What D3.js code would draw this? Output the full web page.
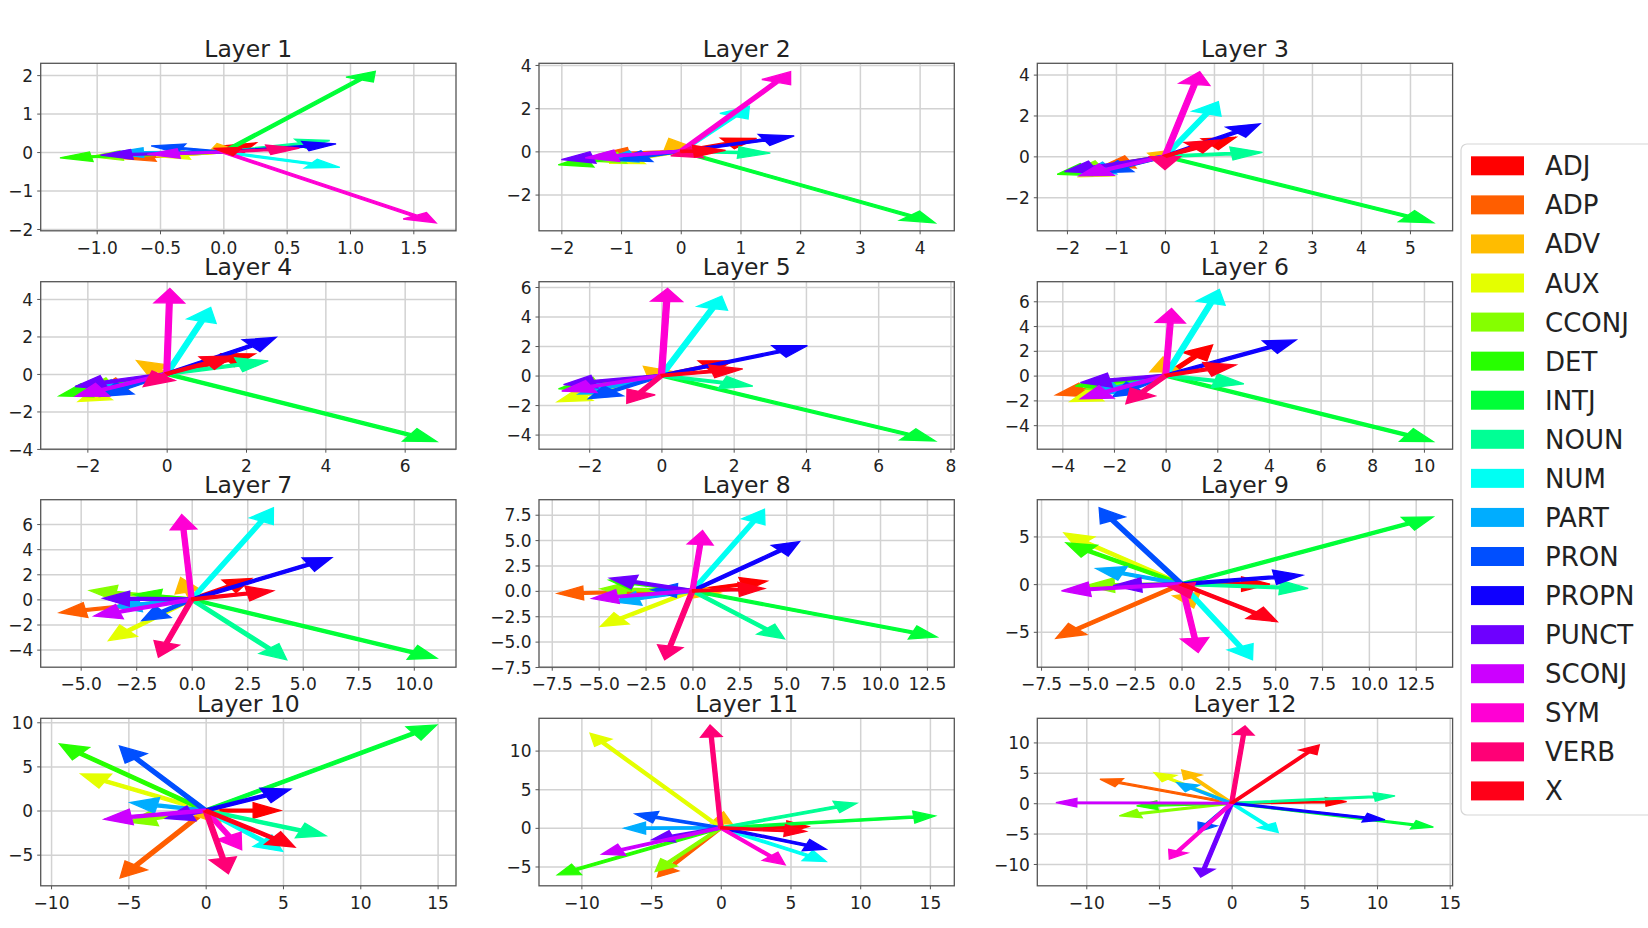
<!DOCTYPE html>
<html><head><meta charset="utf-8">
<script src="https://cdn.jsdelivr.net/npm/d3@7/dist/d3.min.js"></script>
<style>
body{margin:0;background:#fff}
svg{display:block}
text{font-family:"DejaVu Sans",sans-serif;fill:#222}
</style>
</head><body>
<svg id="chart" width="1648" height="928"></svg>
<script>
const categories = ["ADJ","ADP","ADV","AUX","CCONJ","DET","INTJ","NOUN","NUM","PART","PRON","PROPN","PUNCT","SCONJ","SYM","VERB","X"];
const layerTitles = ["Layer 1","Layer 2","Layer 3","Layer 4","Layer 5","Layer 6","Layer 7","Layer 8","Layer 9","Layer 10","Layer 11","Layer 12"];

// [dx, dy] per category, in category order
const layer1 = [[0.26,0.24],[-0.8,-0.17],[-0.05,0.22],[-0.53,-0.12],[-1.05,-0.12],[-1.29,-0.15],[1.2,2.1],[0.84,0.3],[0.92,-0.4],[-0.88,-0.02],[-0.57,0.16],[0.89,0.21],[-0.97,-0.08],[-0.6,-0.06],[1.68,-1.84],[0.6,0.1],[0.15,0.12]];
const layer2 = [[1.27,0.6],[-1.4,-0.15],[-0.2,0.6],[-1.2,-0.55],[-1.5,-0.45],[-2.05,-0.62],[4.26,-3.31],[1.5,-0.08],[1.15,2.1],[-1.3,-0.38],[-1.07,-0.42],[1.9,0.72],[-2.0,-0.38],[-1.6,-0.3],[1.84,3.69],[0.38,-0.3],[0.75,0.05]];
const layer3 = [[1.45,0.94],[-1.3,-0.5],[-0.35,0.15],[-1.75,-1.0],[-1.9,-0.75],[-2.2,-0.88],[5.48,-3.25],[1.99,0.2],[1.09,2.68],[-1.7,-0.85],[-1.35,-0.8],[1.94,1.59],[-2.05,-0.75],[-1.75,-0.95],[0.71,4.15],[0.0,-0.65],[1.1,0.8]];
const layer4 = [[2.23,1.07],[-1.8,-0.9],[-0.76,0.71],[-2.23,-1.47],[-2.1,-0.85],[-2.71,-1.17],[6.81,-3.61],[2.56,0.69],[1.11,3.55],[-1.9,-1.0],[-1.68,-1.2],[2.76,1.95],[-2.31,-0.67],[-2.3,-1.2],[0.08,4.56],[-0.59,-0.67],[1.68,0.96]];
const layer5 = [[2.0,1.0],[-2.3,-1.1],[-0.5,0.63],[-2.88,-1.78],[-2.6,-0.8],[-2.85,-0.9],[7.58,-4.43],[2.53,-0.72],[1.67,5.39],[-2.3,-1.25],[-2.02,-1.57],[4.04,2.02],[-2.71,-0.61],[-2.76,-1.06],[0.17,5.91],[-0.96,-1.89],[2.25,0.45]];
const layer6 = [[1.82,2.47],[-4.25,-1.56],[-0.1,1.5],[-3.7,-2.1],[-3.1,-1.1],[-3.5,-0.85],[10.36,-5.32],[3.03,-0.67],[2.08,6.96],[-2.9,-1.45],[-2.05,-1.7],[5.05,2.88],[-3.3,-0.57],[-3.3,-1.88],[0.23,5.43],[-1.54,-2.28],[2.72,0.86]];
const layer7 = [[2.7,1.67],[-5.96,-1.06],[-0.5,1.75],[-3.75,-3.28],[-4.6,0.7],[-2.6,0.4],[11.04,-4.68],[4.28,-4.81],[3.68,7.3],[-3.5,-0.6],[-2.25,-1.69],[6.31,3.33],[-4.0,0.08],[-4.4,-1.32],[-0.45,6.77],[-1.5,-4.6],[3.68,0.69]];
const layer8 = [[3.98,0.96],[-7.2,-0.26],[1.5,-0.2],[-4.91,-3.5],[-4.9,0.2],[-4.45,1.05],[13.04,-4.55],[4.91,-4.72],[3.84,8.05],[-4.2,-1.09],[-2.2,0.1],[5.71,4.85],[-4.41,1.25],[-5.36,-0.76],[0.54,5.94],[-1.48,-6.8],[3.84,0.23]];
const layer9 = [[4.72,0.0],[-6.71,-5.68],[0.65,-2.5],[-6.28,5.37],[-5.1,-0.15],[-6.17,4.32],[13.43,7.04],[6.76,-0.45],[3.79,-7.94],[-4.57,1.64],[-4.4,8.01],[6.46,0.94],[-3.65,-0.17],[-6.41,-0.7],[0.89,-7.18],[0.45,-1.5],[5.11,-3.94]];
const layer10 = [[4.85,0.0],[-5.54,-7.66],[1.0,-1.6],[-8.08,4.15],[-5.0,-1.3],[-9.46,7.55],[14.94,9.7],[7.78,-2.87],[4.98,-4.64],[-4.89,0.91],[-5.58,7.32],[5.5,2.42],[-2.6,-0.9],[-6.57,-0.98],[2.33,-4.45],[1.47,-7.17],[5.78,-4.15]];
const layer11 = [[6.3,0.17],[-4.55,-6.38],[0.2,2.1],[-9.38,12.24],[-4.71,-5.65],[-11.72,-6.08],[15.38,1.55],[9.76,3.19],[7.56,-4.35],[-6.94,-0.04],[-6.15,1.81],[7.56,-2.76],[-4.95,-1.55],[-8.54,-3.41],[4.62,-4.78],[-0.77,13.32],[6.12,-0.47]];
const layer12 = [[7.91,0.27],[-9.06,3.95],[-3.44,5.48],[-5.34,5.04],[-7.73,-2.08],[-6.54,-0.44],[13.88,-3.95],[11.24,1.2],[3.21,-4.82],[-3.78,3.4],[-2.3,-4.7],[10.55,-2.74],[-2.13,-12.16],[-12.09,0.11],[-4.29,-9.2],[0.92,12.71],[6.03,9.59]];
const layers = [layer1,layer2,layer3,layer4,layer5,layer6,layer7,layer8,layer9,layer10,layer11,layer12];

const xDomains = [[-1.442,1.837],[-2.374,4.581],[-2.605,5.87],[-3.176,7.294],[-3.389,8.107],[-4.968,11.11],[-6.8,11.9],[-8.18,13.96],[-7.7,14.47],[-10.67,16.19],[-13.04,16.75],[-13.37,15.2]];
const yDomains = [[-2.047,2.307],[-3.677,4.077],[-3.642,4.553],[-4.014,4.92],[-4.99,6.36],[-5.94,7.58],[-5.40,7.94],[-7.52,8.98],[-8.71,8.85],[-8.53,10.45],[-7.5,14.18],[-13.59,13.97]];
const xTicks = [[-1,-0.5,0,0.5,1,1.5],[-2,-1,0,1,2,3,4],[-2,-1,0,1,2,3,4,5],[-2,0,2,4,6],[-2,0,2,4,6,8],[-4,-2,0,2,4,6,8,10],[-5,-2.5,0,2.5,5,7.5,10],[-7.5,-5,-2.5,0,2.5,5,7.5,10,12.5],[-7.5,-5,-2.5,0,2.5,5,7.5,10,12.5],[-10,-5,0,5,10,15],[-10,-5,0,5,10,15],[-10,-5,0,5,10,15]];
const yTicks = [[-2,-1,0,1,2],[-2,0,2,4],[-2,0,2,4],[-4,-2,0,2,4],[-4,-2,0,2,4,6],[-4,-2,0,2,4,6],[-4,-2,0,2,4,6],[-7.5,-5,-2.5,0,2.5,5,7.5],[-5,0,5],[-5,0,5,10],[-5,0,5,10],[-10,-5,0,5,10]];

// matplotlib 'hsv' colormap segments
const seg = {
  r: [[0,1],[0.158730,1],[0.174603,0.96875],[0.333333,0.03125],[0.349206,0],[0.666667,0],[0.682540,0.03125],[0.841270,0.96875],[0.857143,1],[1,1]],
  g: [[0,0],[0.158730,0.9375],[0.174603,1],[0.507937,1],[0.666667,0.0625],[0.682540,0],[1,0]],
  b: [[0,0],[0.333333,0],[0.349206,0.0625],[0.507937,1],[0.841270,1],[0.857143,0.9375],[1,0.09375]]
};
function segVal(s,t){
  for(let i=1;i<s.length;i++){
    if(t<=s[i][0]){const a=s[i-1],b=s[i];return a[1]+(b[1]-a[1])*(t-a[0])/(b[0]-a[0]);}
  }
  return s[s.length-1][1];
}
function hsvColor(t){return d3.rgb(255*segVal(seg.r,t),255*segVal(seg.g,t),255*segVal(seg.b,t)).formatHex();}
const colors = categories.map((c,i)=>hsvColor(i/(categories.length-1)));

const svg = d3.select("#chart");
svg.append("rect").attr("width",1648).attr("height",928).attr("fill","#fff");

const colLeft = [40.7,539,1037.3], rowTop = [63.3,281.7,499.7,718.3];
const W = 415.3, H = 167.5;
const fmt = (v,dec)=> (v<0?"\u2212":"") + Math.abs(v).toFixed(dec);

layers.forEach((vecs,li)=>{
  const gx = colLeft[li%3], gy = rowTop[Math.floor(li/3)];
  const g = svg.append("g").attr("transform",`translate(${gx},${gy})`);
  const x = d3.scaleLinear().domain(xDomains[li]).range([0,W]);
  const y = d3.scaleLinear().domain(yDomains[li]).range([H,0]);
  const xt = xTicks[li], yt = yTicks[li];
  const xdec = xt.some(v=>!Number.isInteger(v))?1:0;
  const ydec = yt.some(v=>!Number.isInteger(v))?1:0;

  // grid
  g.append("g").call(d3.axisBottom(x).tickValues(xt).tickSize(-H).tickFormat(""))
    .attr("transform",`translate(0,${H})`)
    .call(a=>{a.select(".domain").remove();a.selectAll("line").attr("stroke","#d2d2d2").attr("stroke-width",1.5);});
  g.append("g").call(d3.axisLeft(y).tickValues(yt).tickSize(-W).tickFormat(""))
    .call(a=>{a.select(".domain").remove();a.selectAll("line").attr("stroke","#d2d2d2").attr("stroke-width",1.5);});

  // arrows
  const cid = "clip"+li;
  g.append("clipPath").attr("id",cid).append("rect").attr("width",W).attr("height",H);
  const ag = g.append("g").attr("clip-path",`url(#${cid})`);
  const maxN = d3.max(vecs,v=>Math.hypot(v[0],v[1]));
  const hw = 0.1*maxN, sw = 0.019*maxN;
  vecs.forEach((v,ci)=>{
    const L = Math.hypot(v[0],v[1]);
    const ux=v[0]/L, uy=v[1]/L, nx=-uy, ny=ux;
    const hl = Math.min(hw,L);
    const bx=v[0]-ux*hl, by=v[1]-uy*hl;
    const pts=[[nx*sw/2,ny*sw/2],[bx+nx*sw/2,by+ny*sw/2],[bx+nx*hw/2,by+ny*hw/2],[v[0],v[1]],[bx-nx*hw/2,by-ny*hw/2],[bx-nx*sw/2,by-ny*sw/2],[-nx*sw/2,-ny*sw/2]];
    ag.append("polygon")
      .attr("points",pts.map(p=>[x(p[0]),y(p[1])].join(",")).join(" "))
      .attr("fill",colors[ci]).attr("stroke",colors[ci]).attr("stroke-width",1.3).attr("stroke-linejoin","miter");
  });

  // spines
  g.append("rect").attr("width",W).attr("height",H).attr("fill","none").attr("stroke","#555").attr("stroke-width",1.3);

  // axes ticks/labels
  const ax = g.append("g").attr("transform",`translate(0,${H})`).call(d3.axisBottom(x).tickValues(xt).tickSize(3.5).tickPadding(4).tickFormat(d=>fmt(d,xdec)));
  ax.select(".domain").remove();
  ax.selectAll("line").attr("stroke","#555");
  ax.selectAll("text").attr("font-size",17).attr("font-family","DejaVu Sans").attr("fill","#222").attr("dy",null).attr("y",23.3);
  const ay = g.append("g").call(d3.axisLeft(y).tickValues(yt).tickSize(3.5).tickPadding(4).tickFormat(d=>fmt(d,ydec)));
  ay.select(".domain").remove();
  ay.selectAll("line").attr("stroke","#555");
  ay.selectAll("text").attr("font-size",17).attr("font-family","DejaVu Sans").attr("fill","#222").attr("dy","0.36em").attr("x",-7.5);

  g.append("text").attr("x",W/2).attr("y",-6.6).attr("text-anchor","middle").attr("font-size",23.5).text(layerTitles[li]);
});

// legend
const lg = svg.append("g");
lg.append("rect").attr("x",1461).attr("y",144).attr("width",200).attr("height",671).attr("rx",6)
  .attr("fill","#fff").attr("stroke","#d6d6d6").attr("stroke-width",1.2);
categories.forEach((c,i)=>{
  const cy = 165.8 + i*39.07;
  lg.append("rect").attr("x",1471).attr("y",cy-9.5).attr("width",53).attr("height",19).attr("fill",colors[i]);
  lg.append("text").attr("x",1545).attr("y",cy+9.5).attr("font-size",26).text(c);
});
</script>
</body></html>
